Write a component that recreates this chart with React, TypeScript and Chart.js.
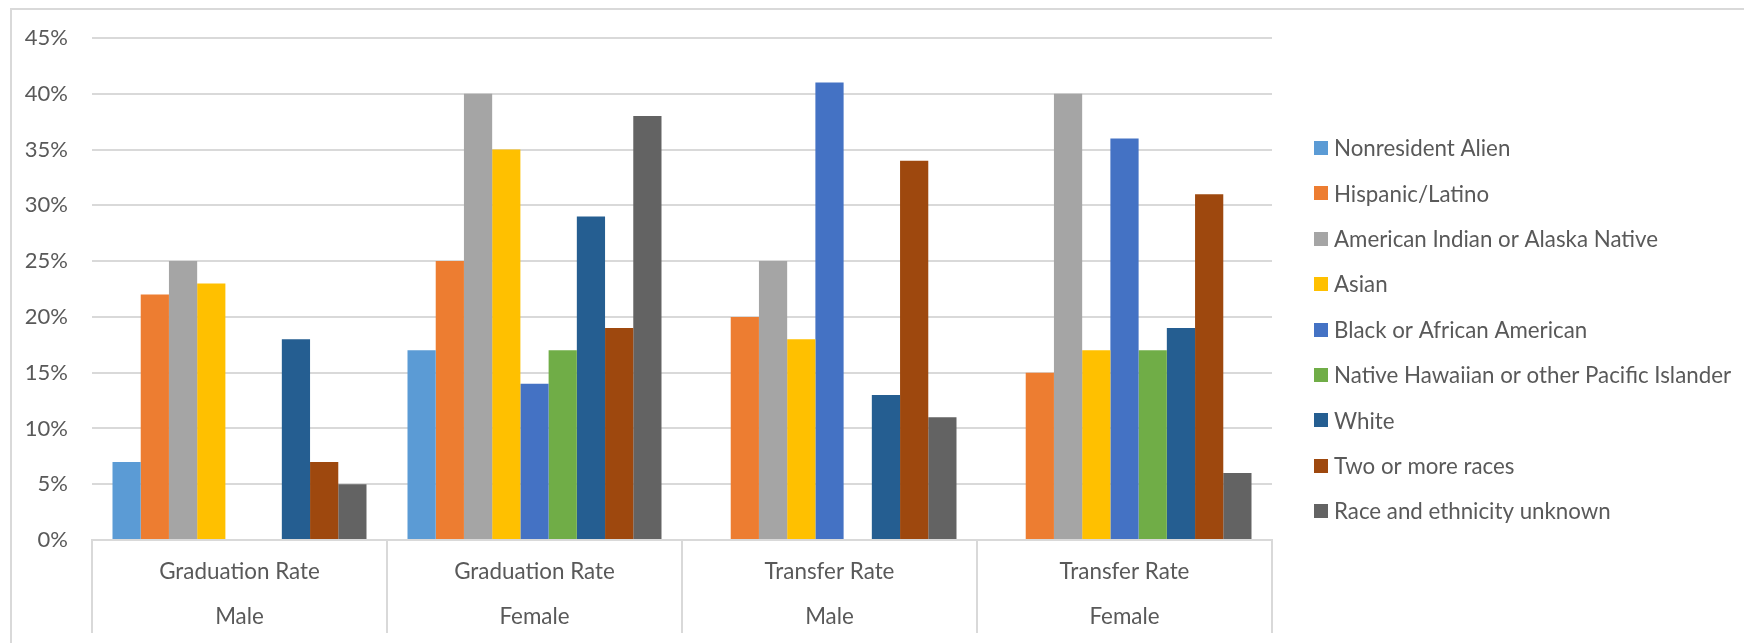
import React, { useEffect, useRef } from "react";
import { Chart, registerables } from "chart.js";

Chart.register(...registerables);

// ---------- data ----------
const categoryTypes = ["Graduation Rate", "Graduation Rate", "Transfer Rate", "Transfer Rate"];
const categoryGenders = ["Male", "Female", "Male", "Female"];

const seriesNames = [
  "Nonresident Alien",
  "Hispanic/Latino",
  "American Indian or Alaska Native",
  "Asian",
  "Black or African American",
  "Native Hawaiian or other Pacific Islander",
  "White",
  "Two or more races",
  "Race and ethnicity unknown",
];

const seriesColors = [
  "#5B9BD5",
  "#ED7D31",
  "#A5A5A5",
  "#FFC000",
  "#4472C4",
  "#70AD47",
  "#255E91",
  "#9E480E",
  "#636363",
];

const nonresidentAlien = [7, 17, null, null];
const hispanicLatino = [22, 25, 20, 15];
const americanIndian = [25, 40, 25, 40];
const asian = [23, 35, 18, 17];
const blackAfricanAmerican = [null, 14, 41, 36];
const nativeHawaiian = [null, 17, null, 17];
const white = [18, 29, 13, 19];
const twoOrMoreRaces = [7, 19, 34, 31];
const raceUnknown = [5, 38, 11, 6];

const seriesValues = [
  nonresidentAlien,
  hispanicLatino,
  americanIndian,
  asian,
  blackAfricanAmerican,
  nativeHawaiian,
  white,
  twoOrMoreRaces,
  raceUnknown,
];

const yMin = 0;
const yMax = 45;
const yStep = 5;

// ---------- style ----------
const FONT = "Lato, 'Open Sans', sans-serif";
const TEXT = "#595959";
const GRID = "#d9d9d9";
const W = 1744;
const H = 643;
const AXIS_FONT = 22.4;
const TICK_FONT = 22;
const LEGEND_FONT = 22.3;

const sideLegend = {
  id: "sideLegend",
  afterDraw(chart: any) {
    const ctx = chart.ctx;
    ctx.save();
    ctx.font = `${LEGEND_FONT}px ${FONT}`;
    ctx.textBaseline = "middle";
    ctx.textAlign = "left";
    chart.data.datasets.forEach((ds: any, i: number) => {
      const cy = 148 + i * 45.4;
      ctx.fillStyle = ds.backgroundColor;
      ctx.fillRect(1314, Math.round(cy - 7), 14, 14);
      ctx.fillStyle = TEXT;
      ctx.fillText(ds.label, 1334, cy + 1);
    });
    ctx.restore();
  },
};

export default function App() {
  const ref = useRef<HTMLCanvasElement>(null);

  useEffect(() => {
    if (!ref.current) return;
    const chart = new Chart(ref.current, {
      type: "bar",
      data: {
        labels: categoryTypes.map((t, i) => [t, categoryGenders[i]]),
        datasets: seriesNames.map((name, i) => ({
          label: name,
          data: seriesValues[i],
          backgroundColor: seriesColors[i],
          borderWidth: 0,
          categoryPercentage: 0.861,
          barPercentage: 1,
        })),
      },
      options: {
        animation: false,
        responsive: false,
        devicePixelRatio: 1,
        layout: { padding: { left: 0, top: 38, right: W - 1272, bottom: 0 } },
        plugins: {
          legend: { display: false },
          tooltip: { enabled: false },
          title: { display: false },
        },
        scales: {
          x: {
            grid: {
              offset: true,
              drawOnChartArea: false,
              drawTicks: true,
              tickLength: 93,
              color: GRID,
              lineWidth: 2,
            },
            border: { display: true, color: GRID, width: 2 },
            ticks: {
              color: TEXT,
              font: { family: FONT, size: AXIS_FONT, lineHeight: 45 / AXIS_FONT },
              padding: 9.5 - 93,
              maxRotation: 0,
              autoSkip: false,
            },
            afterFit: (s: any) => {
              s.height = H - 540;
            },
          },
          y: {
            min: yMin,
            max: yMax,
            ticks: {
              stepSize: yStep,
              color: TEXT,
              font: { family: FONT, size: TICK_FONT },
              padding: 24,
              callback: (v: any) => `${v}%`,
            },
            grid: { color: GRID, lineWidth: 2, drawTicks: false },
            border: { display: false },
            afterFit: (s: any) => {
              s.width = 92;
            },
          },
        },
      },
      plugins: [sideLegend],
    });
    return () => chart.destroy();
  }, []);

  return (
    <div
      style={{
        position: "fixed",
        left: 0,
        top: 0,
        width: W,
        height: H,
        overflow: "hidden",
        background: "#fff",
      }}
    >
      <div
        style={{
          position: "absolute",
          left: 10,
          top: 8,
          width: W + 100,
          height: H + 100,
          border: `2px solid ${GRID}`,
          boxSizing: "border-box",
        }}
      />
      <canvas
        ref={ref}
        width={W}
        height={H}
        style={{ position: "absolute", left: 0, top: 0, width: W, height: H }}
      />
    </div>
  );
}
